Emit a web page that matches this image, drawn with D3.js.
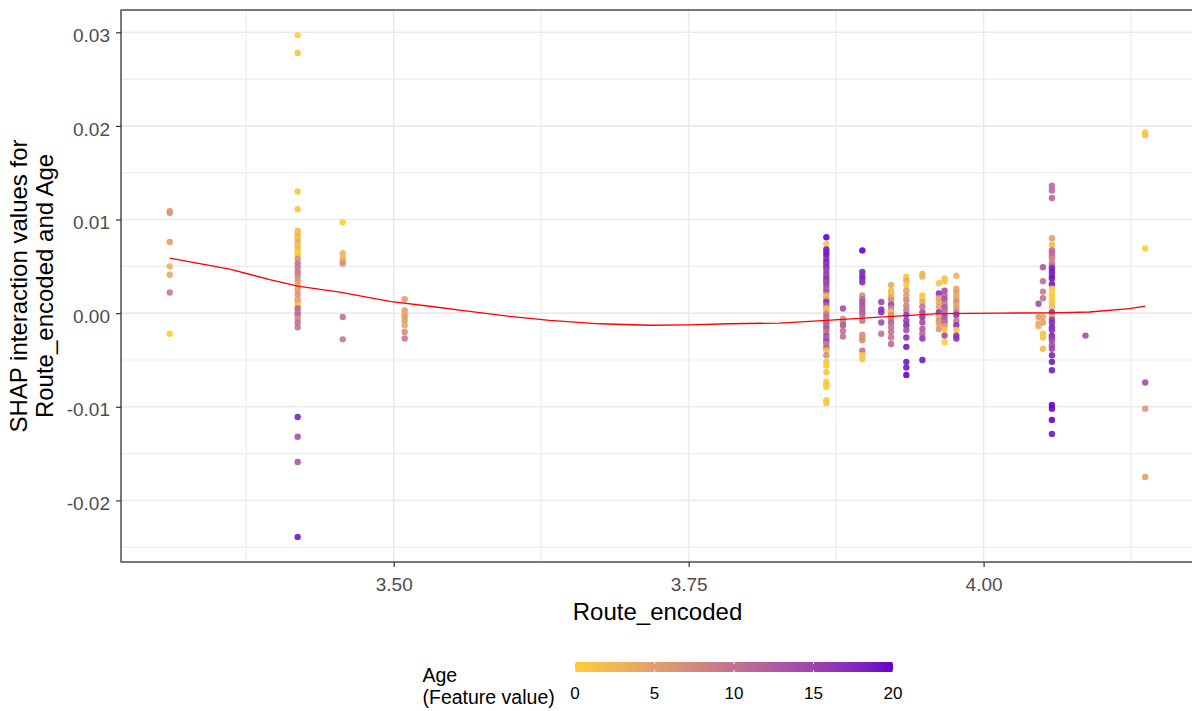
<!DOCTYPE html>
<html>
<head>
<meta charset="utf-8">
<script src="https://cdn.jsdelivr.net/npm/d3@7"></script>
<style>
  html, body { margin: 0; padding: 0; background: #fff; }
  svg { display: block; font-family: "Liberation Sans", Arial, sans-serif; }
</style>
</head>
<body>
<svg id="chart" width="1192" height="711"></svg>
<script>
// Distinct Route_encoded levels and, for each, the SHAP interaction values and Age of its rows
const routeLevels = [3.3102, 3.4186, 3.4568, 3.5093, 3.8667, 3.8808, 3.8972, 3.9133, 3.9216,
                     3.9345, 3.9481, 3.9621, 3.9669, 3.9769, 4.0579, 4.0503, 4.0466, 4.0864, 4.1370];

const shapByLevel = [
  [0.0109, 0.0107, 0.0076, 0.0050, 0.0041, 0.0022, -0.0022],
  [0.0297, 0.0278, 0.0130, 0.0111, 0.0088, 0.0085, 0.0082, 0.0080, 0.0076, 0.0072,
   0.0069, 0.0065, 0.0062, 0.0058, 0.0053, 0.0049, 0.0044, 0.0040, 0.0035, 0.0030,
   0.0025, 0.0020, 0.0015, 0.0012, 0.0008, 0.0005, 0.0001, -0.0002, -0.0006, -0.0010,
   -0.0015, -0.0111, -0.0132, -0.0159, -0.0239],
  [0.0097, 0.0064, 0.0060, 0.0056, 0.0053, -0.0004, -0.0028],
  [0.0015, 0.0003, -0.0001, -0.0004, -0.0008, -0.0013, -0.0020, -0.0027],
  [0.0081, 0.0074, 0.0068, 0.0065, 0.0062, 0.0058, 0.0055, 0.0052, 0.0049, 0.0046,
   0.0042, 0.0039, 0.0036, 0.0033, 0.0030, 0.0026, 0.0023, 0.0019, 0.0016, 0.0014,
   0.0012, 0.0008, 0.0005, 0.0002, -0.0001, -0.0004, -0.0008, -0.0011, -0.0014, -0.0017,
   -0.0020, -0.0024, -0.0027, -0.0030, -0.0033, -0.0037, -0.0040, -0.0045, -0.0052, -0.0056,
   -0.0063, -0.0073, -0.0076, -0.0079, -0.0093, -0.0096],
  [0.0005, -0.0006, -0.0009, -0.0013, -0.0019, -0.0025],
  [0.0067, 0.0044, 0.0040, 0.0037, 0.0033, 0.0019, 0.0015, 0.0012, 0.0008, 0.0005,
   0.0001, -0.0002, -0.0008, -0.0023, -0.0026, -0.0029, -0.0040, -0.0045, -0.0049],
  [0.0012, 0.0004, 0.0001, -0.0010, -0.0022],
  [0.0030, 0.0024, 0.0021, 0.0017, 0.0014, 0.0009, 0.0005, 0.0001, -0.0002, -0.0006,
   -0.0010, -0.0015, -0.0020, -0.0026, -0.0033],
  [0.0039, 0.0035, 0.0030, 0.0024, 0.0019, 0.0014, 0.0008, 0.0003, -0.0002, -0.0008,
   -0.0013, -0.0018, -0.0026, -0.0036, -0.0052, -0.0058, -0.0066],
  [0.0042, 0.0039, 0.0019, 0.0015, 0.0012, 0.0007, 0.0001, -0.0004, -0.0010, -0.0017,
   -0.0022, -0.0027, -0.0050],
  [0.0032, 0.0021, 0.0016, 0.0012, 0.0007, 0.0001, -0.0004, -0.0008, -0.0011, -0.0017],
  [0.0037, 0.0034, 0.0024, 0.0019, 0.0015, 0.0010, 0.0006, 0.0003, 0.0000, -0.0004,
   -0.0008, -0.0011, -0.0014, -0.0018, -0.0024, -0.0031],
  [0.0040, 0.0026, 0.0023, 0.0019, 0.0015, 0.0012, 0.0008, 0.0005, 0.0001, -0.0002,
   -0.0008, -0.0013, -0.0018, -0.0024, -0.0027],
  [0.0136, 0.0131, 0.0123, 0.0080, 0.0073, 0.0067, 0.0064, 0.0061, 0.0058, 0.0053,
   0.0050, 0.0048, 0.0044, 0.0040, 0.0037, 0.0031, 0.0026, 0.0021, 0.0017, 0.0012,
   0.0007, 0.0001, -0.0004, -0.0007, -0.0010, -0.0015, -0.0018, -0.0024, -0.0026, -0.0029,
   -0.0034, -0.0038, -0.0045, -0.0052, -0.0061, -0.0098, -0.0102, -0.0114, -0.0129],
  [0.0049, 0.0034, 0.0023, 0.0016, -0.0004, -0.0010, -0.0022, -0.0026, -0.0038],
  [0.0010, -0.0004, -0.0011, -0.0014],
  [-0.0024],
  [0.0193, 0.0190, 0.0069, -0.0074, -0.0102, -0.0175]
];

const ageByLevel = [
  [6, 6, 5, 3, 4, 9, 0],
  [0, 1, 1, 1, 2, 1, 3, 1, 4, 1, 2, 0, 1, 6, 10, 9, 10, 8, 6, 5,
   5, 6, 5, 4, 1, 12, 10, 11, 7, 10, 10, 18, 14, 13, 19],
  [0, 3, 2, 4, 7, 10, 9],
  [5, 5, 4, 5, 5, 4, 7, 9],
  [20, 1, 19, 18, 19, 17, 18, 16, 17, 15, 16, 15, 17, 14, 15, 13, 14, 3, 2, 5,
   17, 12, 1, 3, 9, 11, 10, 12, 11, 13, 10, 14, 12, 15, 9, 12, 1, 7, 1, 0,
   1, 0, 1, 0, 0, 1],
  [14, 6, 8, 13, 10, 10],
  [20, 18, 17, 18, 17, 7, 11, 13, 14, 12, 13, 11, 10, 7, 6, 7, 10, 1, 1],
  [15, 17, 17, 14, 10],
  [4, 2, 1, 4, 7, 15, 8, 1, 7, 9, 12, 10, 10, 10, 11],
  [1, 4, 1, 5, 5, 8, 8, 9, 16, 16, 17, 14, 17, 19, 19, 19, 20],
  [3, 3, 1, 0, 4, 10, 14, 16, 14, 13, 11, 16, 19],
  [1, 17, 5, 4, 5, 16, 4, 6, 5, 6],
  [1, 1, 14, 12, 14, 10, 13, 11, 10, 14, 12, 10, 5, 1, 14, 0],
  [3, 4, 5, 4, 4, 7, 4, 5, 9, 16, 10, 17, 1, 17, 17],
  [11, 11, 11, 5, 2, 11, 11, 10, 8, 9, 11, 18, 19, 18, 19, 19, 1, 0, 0, 1,
   2, 17, 5, 15, 17, 18, 17, 18, 16, 15, 14, 15, 18, 19, 19, 20, 20, 20, 19],
  [13, 10, 9, 10, 4, 5, 1, 1, 2],
  [14, 5, 4, 3],
  [14],
  [1, 1, 0, 14, 6, 5]
];

// Loess trend through the points
const smoothRoute = [3.3102, 3.3610, 3.3949, 3.4186, 3.4542, 3.4966, 3.5305, 3.5644, 3.5983, 3.6322,
                     3.6746, 3.7169, 3.7508, 3.7847, 3.8271, 3.8667, 3.9119, 3.9627, 4.0136, 4.0576,
                     4.0898, 4.1237, 4.1370];
const smoothShap  = [0.00588, 0.00470, 0.00358, 0.00289, 0.00225, 0.00126, 0.00073, 0.00019, -0.00034, -0.00077,
                     -0.00114, -0.00130, -0.00125, -0.00114, -0.00106, -0.00077, -0.00042, -0.00005, 0.00000, 0.00003,
                     0.00012, 0.00048, 0.00075];

const xTickValues = [3.5, 3.75, 4.0];
const xTickLabels = ["3.50", "3.75", "4.00"];
const xMinorValues = [3.375, 3.625, 3.875, 4.125];
const yTickValues = [-0.02, -0.01, 0, 0.01, 0.02, 0.03];
const yTickLabels = ["-0.02", "-0.01", "0.00", "0.01", "0.02", "0.03"];
const yMinorValues = [-0.025, -0.015, -0.005, 0.005, 0.015, 0.025];
const ageTicks = [0, 5, 10, 15, 20];
const ageRange = [0, 20];

// ---- layout ----
const panel = { left: 121, top: 10, right: 1194, bottom: 562 };
const svg = d3.select("#chart");

const points = routeLevels.flatMap((r, i) =>
  shapByLevel[i].map((s, j) => ({ route: r, shap: s, age: ageByLevel[i][j] })));

// 5% padding on each side of the data range
function padded(ext) { const d = (ext[1] - ext[0]) * 0.05; return [ext[0] - d, ext[1] + d]; }

const x = d3.scaleLinear().domain(padded(d3.extent(points, d => d.route)))
  .range([panel.left, panel.right]);
const y = d3.scaleLinear().domain(padded(d3.extent(points, d => d.shap)))
  .range([panel.bottom, panel.top]);
const color = d3.scaleLinear().domain(ageRange).range(["#FFCC33", "#6600CC"])
  .interpolate(d3.interpolateLab);

svg.append("defs").append("clipPath").attr("id", "panelClip")
  .append("rect").attr("x", panel.left).attr("y", panel.top)
  .attr("width", panel.right - panel.left).attr("height", panel.bottom - panel.top);

// ---- grid ----
const grid = svg.append("g").attr("clip-path", "url(#panelClip)");
grid.selectAll(".ymin").data(yMinorValues).join("line")
  .attr("x1", panel.left).attr("x2", panel.right)
  .attr("y1", d => y(d)).attr("y2", d => y(d))
  .attr("stroke", "#EBEBEB").attr("stroke-width", 1.1);
grid.selectAll(".xmin").data(xMinorValues).join("line")
  .attr("y1", panel.top).attr("y2", panel.bottom)
  .attr("x1", d => x(d)).attr("x2", d => x(d))
  .attr("stroke", "#EBEBEB").attr("stroke-width", 1.1);
grid.selectAll(".ymaj").data(yTickValues).join("line")
  .attr("x1", panel.left).attr("x2", panel.right)
  .attr("y1", d => y(d)).attr("y2", d => y(d))
  .attr("stroke", "#EBEBEB").attr("stroke-width", 1.6);
grid.selectAll(".xmaj").data(xTickValues).join("line")
  .attr("y1", panel.top).attr("y2", panel.bottom)
  .attr("x1", d => x(d)).attr("x2", d => x(d))
  .attr("stroke", "#EBEBEB").attr("stroke-width", 1.6);

// ---- points ----
svg.append("g").attr("clip-path", "url(#panelClip)")
  .selectAll("circle").data(points).join("circle")
  .attr("cx", d => x(d.route))
  .attr("cy", d => y(d.shap))
  .attr("r", 3.2)
  .attr("fill", d => color(d.age))
  .attr("fill-opacity", 0.9);

// ---- trend line ----
const trend = smoothRoute.map((r, i) => [r, smoothShap[i]]);
svg.append("path")
  .datum(trend)
  .attr("d", d3.line().x(d => x(d[0])).y(d => y(d[1])))
  .attr("fill", "none")
  .attr("stroke", "#FF0000")
  .attr("stroke-width", 1.4);

// ---- panel border ----
svg.append("rect")
  .attr("x", panel.left).attr("y", panel.top)
  .attr("width", panel.right - panel.left).attr("height", panel.bottom - panel.top)
  .attr("fill", "none").attr("stroke", "#333333").attr("stroke-width", 1.3);

// ---- axes ----
const yAxis = svg.append("g").attr("transform", `translate(${panel.left},0)`)
  .call(d3.axisLeft(y).tickValues(yTickValues)
    .tickFormat((d, i) => yTickLabels[i]).tickSize(5).tickPadding(6));
const xAxis = svg.append("g").attr("transform", `translate(0,${panel.bottom})`)
  .call(d3.axisBottom(x).tickValues(xTickValues)
    .tickFormat((d, i) => xTickLabels[i]).tickSize(5).tickPadding(11));
[yAxis, xAxis].forEach(a => {
  a.select(".domain").remove();
  a.selectAll(".tick line").attr("stroke", "#333333").attr("stroke-width", 1.2);
  a.selectAll(".tick text").attr("fill", "#4D4D4D")
    .style("font-size", "19px").style("font-family", '"Liberation Sans", Arial, sans-serif');
});
yAxis.selectAll(".tick text").attr("dy", "0.48em");

// axis titles
svg.append("text")
  .attr("x", (panel.left + panel.right) / 2).attr("y", 620)
  .attr("text-anchor", "middle").attr("fill", "#000")
  .style("font-size", "24px").text("Route_encoded");

const yTitleLines = ["SHAP interaction values for", "Route_encoded and Age"];
const midY = (panel.top + panel.bottom) / 2;
svg.selectAll(".ytitle").data(yTitleLines).join("text")
  .attr("transform", (d, i) => `translate(${27 + i * 26.4},${midY}) rotate(-90)`)
  .attr("text-anchor", "middle").attr("fill", "#000")
  .style("font-size", "24px").text(d => d);

// ---- colour legend ----
const bar = { x0: 575, x1: 893, y: 662, h: 10 };
const legendX = d3.scaleLinear().domain(ageRange).range([bar.x0, bar.x1]);

const grad = svg.select("defs").append("linearGradient").attr("id", "ageGrad")
  .attr("x1", "0%").attr("x2", "100%").attr("y1", "0%").attr("y2", "0%");
d3.range(0, 21).forEach(k => {
  const v = ageRange[0] + (ageRange[1] - ageRange[0]) * k / 20;
  grad.append("stop").attr("offset", `${k * 5}%`).attr("stop-color", color(v));
});

svg.append("rect")
  .attr("x", bar.x0).attr("y", bar.y)
  .attr("width", bar.x1 - bar.x0).attr("height", bar.h)
  .attr("fill", "url(#ageGrad)");

const ticksG = svg.append("g");
ageTicks.forEach(t => {
  const tx = legendX(t);
  ticksG.append("line").attr("x1", tx).attr("x2", tx)
    .attr("y1", bar.y).attr("y2", bar.y + 2).attr("stroke", "#fff").attr("stroke-width", 1);
  ticksG.append("line").attr("x1", tx).attr("x2", tx)
    .attr("y1", bar.y + bar.h - 2).attr("y2", bar.y + bar.h).attr("stroke", "#fff").attr("stroke-width", 1);
});

svg.append("g").selectAll("text").data(ageTicks).join("text")
  .attr("x", d => legendX(d)).attr("y", 699)
  .attr("text-anchor", "middle").attr("fill", "#000")
  .style("font-size", "17px").text(d => d);

const legendTitle = ["Age", "(Feature value)"];
svg.append("g").selectAll("text").data(legendTitle).join("text")
  .attr("x", 422.5).attr("y", (d, i) => 682 + i * 22)
  .attr("fill", "#000").style("font-size", "19.5px").text(d => d);
</script>
</body>
</html>
